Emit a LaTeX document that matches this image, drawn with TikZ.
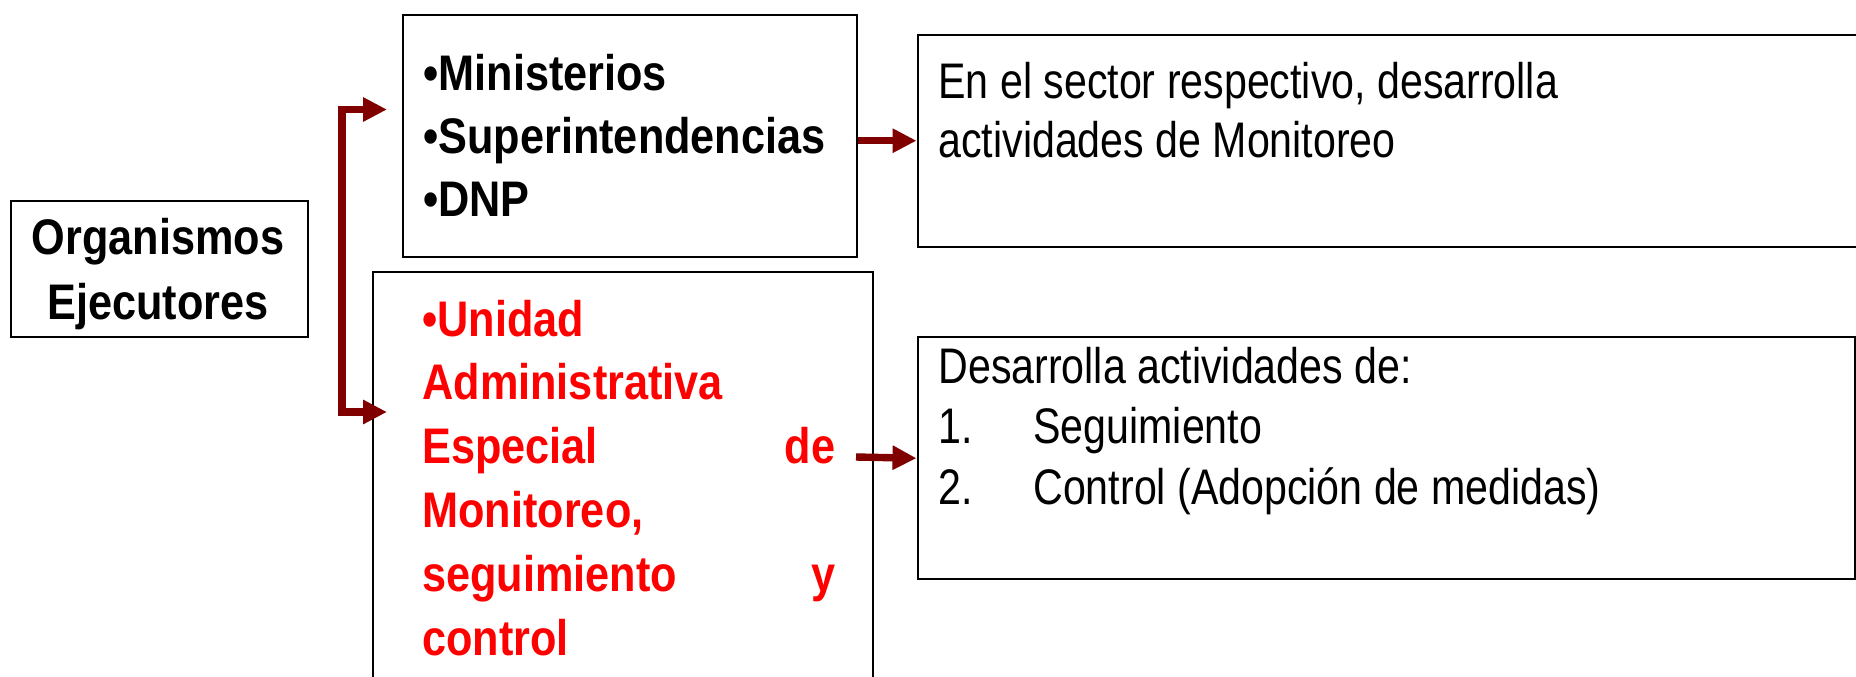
\documentclass[tikz,border=0pt]{standalone}
\usepackage{fontspec}
\setmainfont{Liberation Sans}[FakeStretch=0.823]
\newfontfamily\boldnarrow{Liberation Sans}[FakeStretch=0.865]
\usetikzlibrary{arrows.meta}
\definecolor{arrowred}{RGB}{128,0,0}
\newcommand{\narrowspace}{\spaceskip=5.7pt plus 2pt minus 1pt\relax}

\tikzset{
  box/.style={draw, line width=1.2pt, inner sep=0pt, anchor=north west},
  txt/.style={anchor=base west, inner sep=0pt, align=left},
  bold/.style={font=\boldnarrow\bfseries\fontsize{25}{31.5}\selectfont},
  link/.style={draw=arrowred, line width=3.7pt, -{Triangle[length=12pt,width=11.5pt]}},
  fork/.style={link, {Triangle[length=12pt,width=11.5pt]}-{Triangle[length=12pt,width=11.5pt]}},
}

\begin{document}
\begin{tikzpicture}[x=0.5pt, y=-0.5pt]
    \clip (0,0) rectangle (1856,676);

    % boxes
    \node[box, minimum width=148.75pt, minimum height=68pt] (org) at (9.5,199.5) {};
    \node[box, minimum width=227pt, minimum height=121pt] (minis) at (402,14) {};
    \node[box, minimum width=250pt, minimum height=230pt] (unidad) at (372,271) {};
    \node[box, minimum width=490pt, minimum height=106pt] (sector) at (916.5,33.5) {};
    \node[box, minimum width=468.75pt, minimum height=121pt] (desarr) at (916.5,336) {};

    % texts
    \node[txt, bold, text width=148pt, align=center, anchor=base, font=\boldnarrow\bfseries\fontsize{25}{32.5}\selectfont] (orgtxt) at (158,254) {Organismos\\Ejecutores};
    \node[txt, bold, text width=220pt] (ministxt) at (423,90.5) {•Ministerios\\•Superintendencias\\•DNP};
    \node[txt, bold, text=red, text width=206.5pt, font=\boldnarrow\bfseries\fontsize{25}{31.9}\selectfont] (unidadtxt) at (422,336)
        {•Unidad\\Administrativa\\Especial\hfill de\\Monitoreo,\\seguimiento\hfill y\\control};
    \node[txt, text width=450pt, font=\fontsize{25}{29.5}\selectfont] (sectortxt) at (938,98)
        {\narrowspace En el sector respectivo, desarrolla\\actividades de Monitoreo};
    \node[txt, text width=450pt, font=\fontsize{25}{30.1}\selectfont] (desarrtxt) at (938,383.6)
        {\narrowspace Desarrolla actividades de:\\\makebox[47.5pt][l]{1.}Seguimiento\\\makebox[47.5pt][l]{2.}Control (Adopción de medidas)};

    % connectors
    \coordinate (tiptop) at (387,109.5);
    \coordinate (tipbot) at (387,412);
    \coordinate (unidadout) at (856,457);
    \draw[fork] (tiptop) -- (342,109.5) |- (tipbot);
    \draw[link] (minis.east |- sector.west) -- (sector.west);
    \draw[link] (unidadout) -- (desarr.west);
\end{tikzpicture}
\end{document}
